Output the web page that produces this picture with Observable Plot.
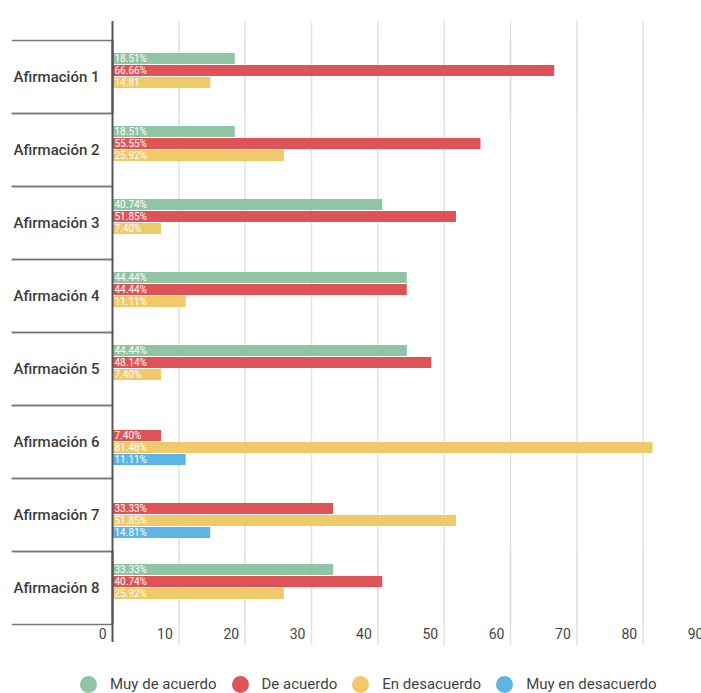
<!DOCTYPE html>
<html>
<head>
<meta charset="utf-8">
<script src="https://cdn.jsdelivr.net/npm/d3@7"></script>
<script src="https://cdn.jsdelivr.net/npm/@observablehq/plot@0.6"></script>
<style>
  html, body { margin: 0; padding: 0; background: #fff; }
  #chart { width: 701px; font-family: Roboto, sans-serif; }
  .legend { display: flex; justify-content: flex-start; align-items: center; margin-top: 15px; padding-left: 80px; height: 18px; font-size: 15px; line-height: 18px; color: #444; }
  .legend .item { display: flex; align-items: center; margin-right: 15px; }
  .legend .dot { width: 17px; height: 17px; border-radius: 50%; margin-right: 13px; }
</style>
</head>
<body>
<div id="chart"></div>
<script>
const categories = ["Afirmación 1","Afirmación 2","Afirmación 3","Afirmación 4","Afirmación 5","Afirmación 6","Afirmación 7","Afirmación 8"];
const series = ["Muy de acuerdo","De acuerdo","En desacuerdo","Muy en desacuerdo"];
const colors = ["#8fc5a5","#de5357","#f0ca6a","#5db5e5"];

const muyDeAcuerdo    = [18.51, 18.51, 40.74, 44.44, 44.44, null, null, 33.33];
const deAcuerdo       = [66.66, 55.55, 51.85, 44.44, 48.14, 7.40, 33.33, 40.74];
const enDesacuerdo    = [14.81, 25.92, 7.40, 11.11, 7.40, 81.48, 51.85, 25.92];
const muyEnDesacuerdo = [null, null, null, null, null, 11.11, 14.81, null];

const muyDeAcuerdoLbl    = ["18.51%","18.51%","40.74%","44.44%","44.44%",null,null,"33.33%"];
const deAcuerdoLbl       = ["66.66%","55.55%","51.85%","44.44%","48.14%","7.40%","33.33%","40.74%"];
const enDesacuerdoLbl    = ["14.81","25.92%","7.40%","11.11%","7.40%","81.48%","51.85%","25.92%"];
const muyEnDesacuerdoLbl = [null,null,null,null,null,"11.11%","14.81%",null];

const xTicks = [0,10,20,30,40,50,60,70,80,90];

const valueSets = [muyDeAcuerdo, deAcuerdo, enDesacuerdo, muyEnDesacuerdo];
const labelSets = [muyDeAcuerdoLbl, deAcuerdoLbl, enDesacuerdoLbl, muyEnDesacuerdoLbl];

const rows = [];
categories.forEach((c, i) => {
  series.forEach((s, j) => {
    const v = valueSets[j][i];
    if (v != null) rows.push({c, s, v, l: labelSets[j][i]});
  });
});

const gridTicks = xTicks.filter(t => t > 0);
const firstCat = categories[0], lastCat = categories[categories.length - 1];
const gridTop = gridTicks.map(t => ({t, c: firstCat}));
const gridBottom = gridTicks.map(t => ({t, c: lastCat}));

const plot = Plot.plot({
  width: 701,
  height: 660,
  marginLeft: 112,
  marginRight: -8,
  marginTop: 39,
  marginBottom: 36,
  style: {fontFamily: "Roboto, sans-serif", background: "#fff"},
  x: {domain: [0, 90], axis: null},
  y: {domain: series, paddingInner: 0.08, paddingOuter: 0.98, axis: null},
  fy: {domain: categories, padding: 0, axis: null},
  color: {domain: series, range: colors},
  marks: [
    Plot.ruleX(gridTicks, {x: d => d, stroke: "#e2e2e2", strokeWidth: 1.5}),
    Plot.ruleX(gridTop, {x: "t", fy: "c", stroke: "#e2e2e2", strokeWidth: 1.5, insetTop: -19}),
    Plot.ruleX(gridBottom, {x: "t", fy: "c", stroke: "#e2e2e2", strokeWidth: 1.5, insetBottom: -21}),
    Plot.frame({anchor: "top", stroke: "#777", strokeWidth: 1.5, insetLeft: -100, insetRight: 597}),
    Plot.frame({anchor: "bottom", stroke: "#777", strokeWidth: 1.5, insetLeft: -100, insetRight: 597}),
    Plot.barX(rows, {x: "v", y: "s", fy: "c", fill: "s"}),
    Plot.text(rows, {x: () => 0, y: "s", fy: "c", text: "l", textAnchor: "start", dx: 2, fill: "white", fontSize: 10}),
    Plot.ruleX([0], {x: d => d, stroke: "#555", strokeWidth: 2}),
    Plot.ruleX([{t: 0, c: firstCat}], {x: "t", fy: "c", stroke: "#555", strokeWidth: 2, insetTop: -19}),
    Plot.ruleX([{t: 0, c: lastCat}], {x: "t", fy: "c", stroke: "#555", strokeWidth: 2, insetBottom: -18}),
    Plot.axisFy({anchor: "left", tickSize: 0, tickPadding: 13, label: null, fontSize: 15, fontWeight: 500, fill: "#3c3c3c"}),
    Plot.axisX({anchor: "bottom", ticks: xTicks, tickSize: 0, tickPadding: 5, textAnchor: "end", dx: -6, label: null, fontSize: 14, fill: "#444", tickFormat: d => String(d)})
  ]
});

const chart = document.getElementById("chart");
chart.appendChild(plot);

const legend = document.createElement("div");
legend.className = "legend";
series.forEach((s, i) => {
  const item = document.createElement("div");
  item.className = "item";
  const dot = document.createElement("span");
  dot.className = "dot";
  dot.style.background = colors[i];
  const lab = document.createElement("span");
  lab.textContent = s;
  item.appendChild(dot);
  item.appendChild(lab);
  legend.appendChild(item);
});
chart.appendChild(legend);
</script>
</body>
</html>
